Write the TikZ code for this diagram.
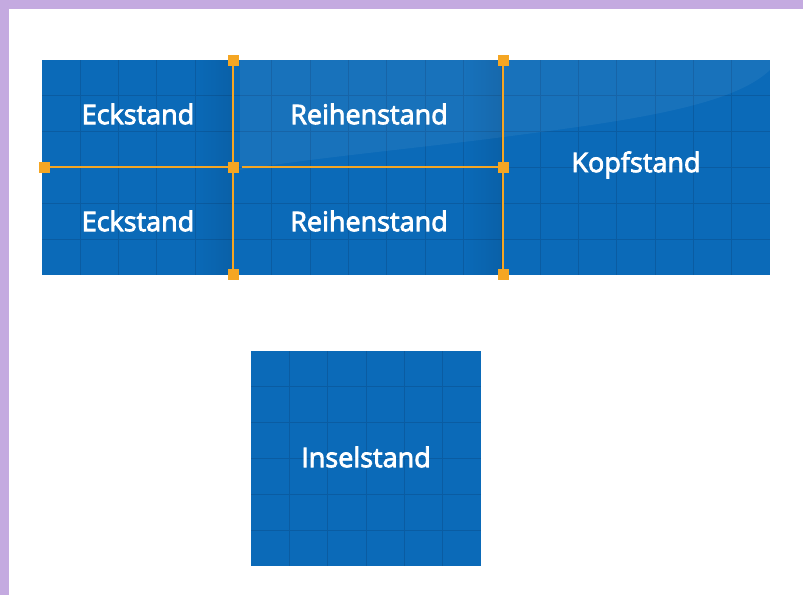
\documentclass[tikz,border=0pt]{standalone}
\usepackage{fontspec}
\setmainfont{Open Sans}
\newfontfamily\lblfont{Open Sans}[FakeBold=3]
\usetikzlibrary{fadings}
\definecolor{standblue}{RGB}{11,106,184}
\definecolor{griddark}{RGB}{10,92,162}
\definecolor{orng}{RGB}{245,166,35}
\definecolor{purplebd}{RGB}{196,170,224}
\begin{document}
\begin{tikzpicture}[x=1pt,y=-1pt,
  stand/.style={fill=standblue, draw=none, inner sep=0pt, anchor=north west},
  lbl/.style={text=white, font=\lblfont\fontsize{27}{30}\selectfont},
  gridline/.style={draw=griddark, line width=0.9pt},
  orangeline/.style={draw=orng, line width=2.6pt},
  handle/.style={fill=orng, draw=none, minimum size=11pt, inner sep=0pt}]
\useasboundingbox (0,0) rectangle (803,595);
\fill[purplebd] (0,0) rectangle (803,595);
\fill[white] (9,9) rectangle (803,595);
% main block
\node[stand, minimum width=728pt, minimum height=215pt] (main) at (42,60) {};
\foreach \i in {1,...,18} \draw[gridline] ({42+\i*728/19},60) -- ({42+\i*728/19},275);
\foreach \j in {1,...,5} \draw[gridline] (42,{60+\j*215/6}) -- (770,{60+\j*215/6});
% shadows near dividers
\fill[black, opacity=0.09, path fading=west] (195,60) rectangle (233,275);
\fill[black, opacity=0.09, path fading=west] (465,60) rectangle (503,275);
% gloss
\fill[white, opacity=0.055] (240,60) -- (770,60) -- (770,70) .. controls (730,108) and (620,122) .. (480,140) .. controls (380,152) and (300,160) .. (240,170) -- cycle;
% island
\node[stand, minimum width=230pt, minimum height=215pt] (insel) at (251,351) {};
\foreach \i in {1,...,5} \draw[gridline] ({251+\i*230/6},351) -- ({251+\i*230/6},566);
\foreach \j in {1,...,5} \draw[gridline] (251,{351+\j*215/6}) -- (481,{351+\j*215/6});
% labels
\node[lbl] (ecko) at (138,114) {Eckstand};
\node[lbl] (ecku) at (138,221) {Eckstand};
\node[lbl] (reiho) at (369,114) {Reihenstand};
\node[lbl] (reihu) at (369,221) {Reihenstand};
\node[lbl] (kopf) at (636,165) {Kopfstand};
\node[lbl] (insellbl) at (366,457) {Inselstand};
% orange dividers
\coordinate (c1) at (233,60);
\coordinate (c2) at (233,167);
\coordinate (c3) at (233,274);
\coordinate (c4) at (503,60);
\coordinate (c5) at (503,167);
\coordinate (c6) at (503,274);
\coordinate (c7) at (44,167);
\coordinate (c8) at (242,167);
\draw[orangeline] (c1) -- (c3);
\draw[orangeline] (c4) -- (c6);
\draw[orangeline] (c7) -- (c2);
\draw[orangeline] (c8) -- (c5);
\foreach \k in {1,...,7} \node[handle] (h\k) at (c\k) {};
\end{tikzpicture}
\end{document}
